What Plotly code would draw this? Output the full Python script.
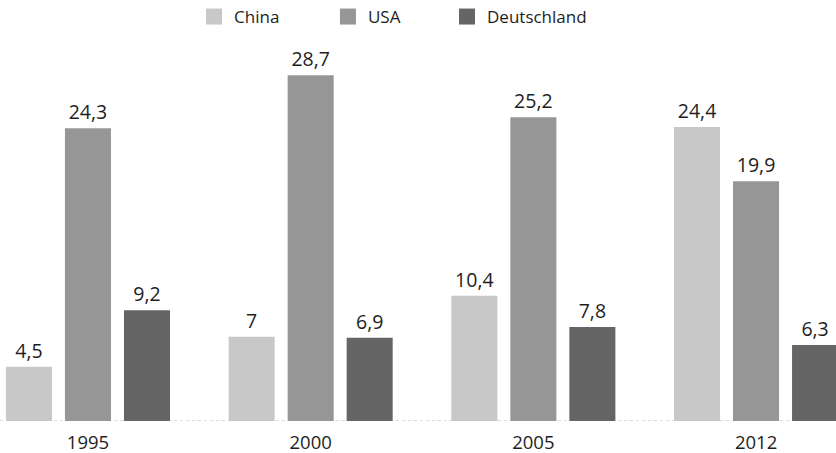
import plotly.graph_objects as go

years = ["1995", "2000", "2005", "2012"]
china = [4.5, 7, 10.4, 24.4]
usa = [24.3, 28.7, 25.2, 19.9]
deutschland = [9.2, 6.9, 7.8, 6.3]

series = [("China", china, "#c8c8c8"), ("USA", usa, "#969696"), ("Deutschland", deutschland, "#656565")]
legend_x = [0.2321, 0.3923, 0.5347]

def fmt(v):
    s = ("%g" % v)
    return s.replace(".", ",")

FONT = "Open Sans"
TXT = "#1e1e1e"
fig = go.Figure()
for name, vals, col in series:
    fig.add_trace(go.Bar(
        x=years, y=vals, name=name, marker=dict(color=col, line=dict(width=0)),
        text=[fmt(v) for v in vals], textposition="outside", cliponaxis=False,
        textfont=dict(family=FONT, size=19.5, color=TXT),
        showlegend=False,
    ))
for i, (name, vals, col) in enumerate(series):
    fig.add_trace(go.Scatter(
        x=[None], y=[None], mode="markers", name=name,
        legend="legend" if i == 0 else "legend%d" % (i + 1),
        marker=dict(symbol="square", size=16, color=col),
    ))

fig.add_shape(type="line", xref="paper", yref="y", x0=0, x1=1, y0=0, y1=0,
              line=dict(color="#b5b5b5", width=1.2, dash="dot"), layer="below")

legend_common = dict(yref="container", y=0.9625, yanchor="middle", xanchor="left",
                     bgcolor="rgba(0,0,0,0)",
                     font=dict(family=FONT, size=17, color=TXT))
layout_legends = {}
for i, lx in enumerate(legend_x):
    key = "legend" if i == 0 else "legend%d" % (i + 1)
    layout_legends[key] = dict(x=lx, **legend_common)

fig.update_layout(
    width=836, height=453,
    margin=dict(l=0, r=0, t=40, b=32),
    paper_bgcolor="white", plot_bgcolor="white",
    barmode="group", bargap=0.205, bargroupgap=0.22,
    font=dict(family=FONT, size=18, color=TXT),
    showlegend=True,
    xaxis=dict(type="category", range=[-0.395, 3.359], showgrid=False, zeroline=False,
               showline=False, ticks="", ticklabelstandoff=8,
               tickfont=dict(family=FONT, size=18.5, color=TXT)),
    yaxis=dict(range=[0, 31.62], visible=False),
    **layout_legends,
)

fig.write_html("out.html", config={"displayModeBar": False},
               post_script="document.body.style.margin='0';document.body.style.overflow='hidden';")
